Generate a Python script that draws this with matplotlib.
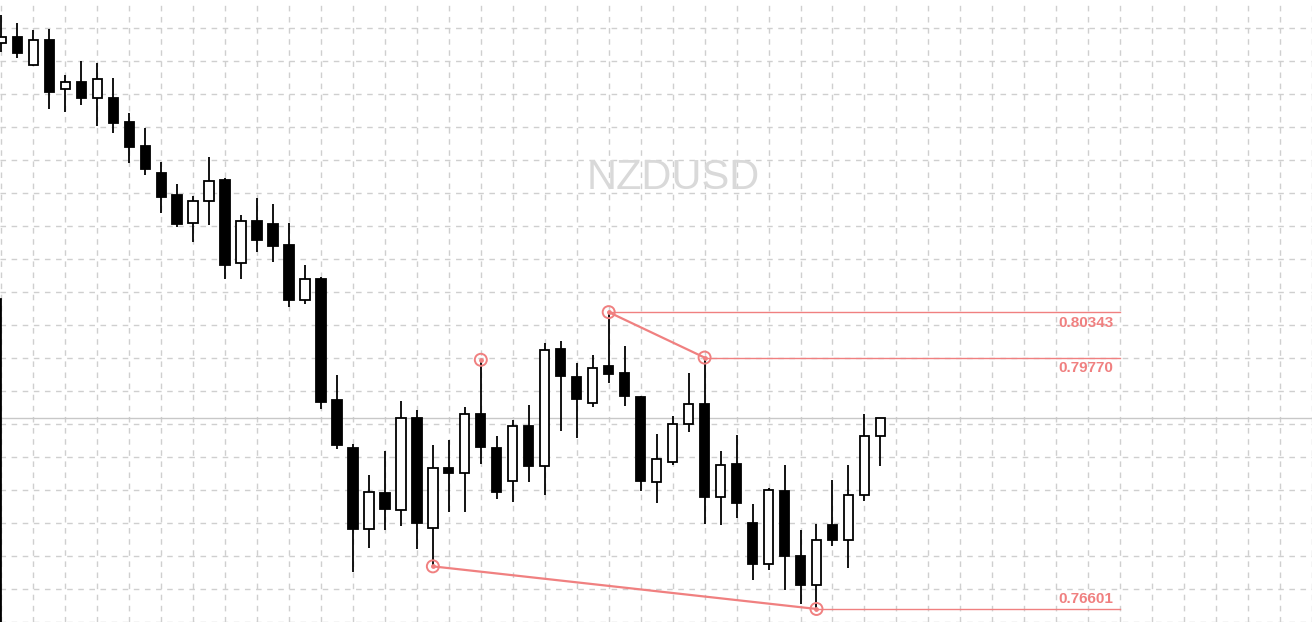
import matplotlib as mpl
mpl.use('Agg')

import numpy as np
import matplotlib.pyplot as plt

symbol = 'NZDUSD'

# daily candles (first one is cut by the left edge)
opens = [0.83736, 0.83808, 0.83463, 0.83770, 0.83153, 0.83241, 0.83047, 0.83039,
         0.82737, 0.82438, 0.82094, 0.81821, 0.81464, 0.81742, 0.82010, 0.80960,
         0.81493, 0.81456, 0.81191, 0.80494, 0.80759, 0.79238, 0.78633, 0.77609,
         0.78066, 0.77848, 0.79007, 0.77621, 0.78381, 0.78314, 0.79058, 0.78633,
         0.78214, 0.78907, 0.78403, 0.79877, 0.79524, 0.79196, 0.79666, 0.79574,
         0.79276, 0.78201, 0.78448, 0.78932, 0.79188, 0.78012, 0.78432, 0.77684,
         0.77168, 0.78091, 0.77272, 0.76903, 0.77663, 0.77470, 0.78037, 0.78781]
highs = [0.84089, 0.83988, 0.83900, 0.83909, 0.83329, 0.83506, 0.83484, 0.83295,
         0.82850, 0.82665, 0.82237, 0.81960, 0.81808, 0.82300, 0.82031, 0.81569,
         0.81783, 0.81708, 0.81468, 0.80939, 0.80784, 0.79549, 0.78684, 0.78293,
         0.78595, 0.79225, 0.79112, 0.78671, 0.78734, 0.79141, 0.79742, 0.78784,
         0.78986, 0.79175, 0.79960, 0.79973, 0.79700, 0.79805, 0.80343, 0.79918,
         0.79288, 0.78810, 0.79028, 0.79578, 0.79770, 0.78595, 0.78797, 0.77928,
         0.78125, 0.78419, 0.77591, 0.77676, 0.78230, 0.78419, 0.79062, 0.79007]
lows = [0.83623, 0.83551, 0.83450, 0.82908, 0.82871, 0.82959, 0.82694, 0.82606,
        0.82228, 0.82077, 0.81598, 0.81422, 0.81233, 0.81443, 0.80766, 0.80759,
        0.81107, 0.80981, 0.80414, 0.80444, 0.79121, 0.78612, 0.77062, 0.77364,
        0.77591, 0.77642, 0.77352, 0.77138, 0.77818, 0.77818, 0.78432, 0.77991,
        0.77944, 0.78196, 0.78041, 0.78847, 0.78750, 0.79141, 0.79448, 0.79162,
        0.78083, 0.77931, 0.78410, 0.78826, 0.77676, 0.77654, 0.77742, 0.76961,
        0.77087, 0.76835, 0.76668, 0.76601, 0.77390, 0.77112, 0.77957, 0.78398]
closes = [0.83812, 0.83614, 0.83770, 0.83123, 0.83241, 0.83047, 0.83279, 0.82732,
          0.82430, 0.82152, 0.81800, 0.81459, 0.81742, 0.81994, 0.80939, 0.81490,
          0.81258, 0.81182, 0.80502, 0.80759, 0.79204, 0.78662, 0.77604, 0.78075,
          0.77856, 0.79007, 0.77679, 0.78377, 0.78309, 0.79058, 0.78637, 0.78070,
          0.78907, 0.78398, 0.79864, 0.79532, 0.79254, 0.79637, 0.79569, 0.79280,
          0.78209, 0.78491, 0.78932, 0.79184, 0.78007, 0.78415, 0.77931, 0.77163,
          0.78100, 0.77264, 0.76898, 0.77474, 0.77465, 0.78037, 0.78781, 0.79007]

# swing points marked with circles
swing_idx = [27, 30, 38, 44, 51]
swing_px = [0.77138, 0.79742, 0.80343, 0.79770, 0.76601]

# levels drawn out to the right with their price labels
level_idx = [38, 44, 51]
level_px = [0.80343, 0.79770, 0.76601]
level_txt = ['0.80343', '0.79770', '0.76601']
level_end = 70

# trend lines between swing points
trend_a = ([38, 44], [0.80343, 0.79770])
trend_b = ([27, 51], [0.77138, 0.76601])

red = '#f08080'
grid_col = '#cfcfcf'

x = np.arange(len(opens))
o = np.array(opens)
c = np.array(closes)
up = c >= o

fig = plt.figure(figsize=(13.12, 6.22), dpi=100)
ax = fig.add_axes([0, 0, 1, 1])
ax.set_xlim(-0.081, 81.92)
ax.set_ylim(0.76441, 0.84278)

# grid every 2 bars / 33 px
ax.set_xticks(np.arange(0, 84, 2))
ax.set_yticks(0.83921 - 0.004158 * np.arange(19))
ax.grid(True, color=grid_col, linestyle=(0, (4, 4)), linewidth=1.0)
ax.tick_params(length=0, labelbottom=False, labelleft=False)
for s in ax.spines.values():
    s.set_visible(False)
ax.set_axisbelow(True)

# watermark
ax.text(0.513, 0.714, symbol, transform=ax.transAxes, ha='center', va='center',
        fontsize=30, family='Liberation Sans', color='#d9d9d9', zorder=1)

# current price line
ax.axhline(closes[-1], color='#c8c8c8', linewidth=1.0, zorder=2)

# candles
ax.vlines(x, lows, highs, color='black', linewidth=1.3, zorder=3)
body_lo = np.minimum(o, c)
body_h = np.abs(c - o)
ax.bar(x[up], body_h[up], bottom=body_lo[up], width=0.58, color='white',
       edgecolor='black', linewidth=1.3, zorder=4)
ax.bar(x[~up], body_h[~up], bottom=body_lo[~up], width=0.58, color='black',
       edgecolor='black', linewidth=1.3, zorder=4)

# annotations
for xs, ys in [trend_a, trend_b]:
    ax.plot(xs, ys, color=red, linewidth=1.6, zorder=5)
for i, p, t in zip(level_idx, level_px, level_txt):
    ax.plot([i, level_end], [p, p], color=red, linewidth=1.0, zorder=5)
    dy = 7 if p < 0.77 else -7.5
    ax.annotate(t, (level_end, p), xytext=(-5, dy), textcoords='offset points',
                ha='right', va='center', fontsize=11, fontweight='bold',
                family='Liberation Sans', color=red, zorder=6)
ax.scatter(swing_idx, swing_px, s=75, facecolors='none', edgecolors=red,
           linewidths=1.4, zorder=6)
ax.scatter(swing_idx, swing_px, s=6, color=red, zorder=6)

# left frame line, lower half only
ax.axvline(-0.081, ymax=0.52, color='black', linewidth=2.0, zorder=7)

fig.savefig('out.png', dpi=100)
